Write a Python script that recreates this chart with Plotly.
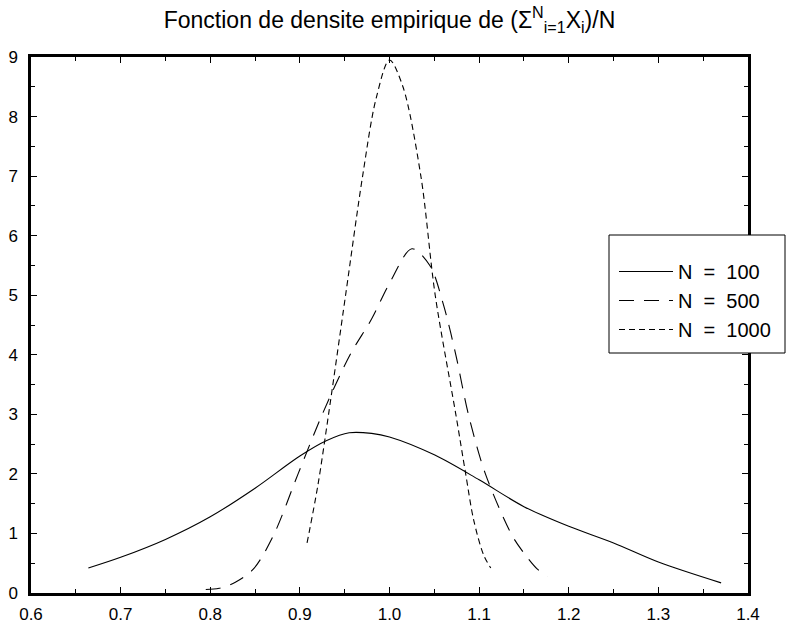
import plotly.graph_objects as go

# N = 100
x100 = [0.664, 0.70, 0.75, 0.80, 0.85, 0.90, 0.93, 0.955, 0.98, 1.00, 1.05, 1.10, 1.15, 1.20, 1.25, 1.30, 1.37]
y100 = [0.42, 0.60, 0.90, 1.28, 1.76, 2.30, 2.56, 2.69, 2.68, 2.62, 2.32, 1.90, 1.45, 1.12, 0.84, 0.52, 0.17]

# N = 500
x500 = [0.795, 0.81, 0.828, 0.848, 0.87, 0.898, 0.925, 0.956, 0.98, 1.00, 1.025, 1.045, 1.06, 1.074, 1.088, 1.107, 1.137, 1.15, 1.165, 1.176]
y500 = [0.06, 0.08, 0.18, 0.40, 0.95, 2.0, 3.0, 4.0, 4.6, 5.2, 5.78, 5.5, 4.85, 4.0, 3.0, 2.0, 0.96, 0.67, 0.40, 0.28]

# N = 1000
x1000 = [0.908, 0.92, 0.932, 0.951, 0.97, 0.985, 1.0, 1.015, 1.035, 1.051, 1.074, 1.085, 1.094, 1.105, 1.113]
y1000 = [0.84, 1.8, 3.0, 5.0, 7.0, 8.3, 8.95, 8.5, 7.0, 5.0, 3.0, 2.0, 1.22, 0.64, 0.42]

names = ["N  =  100", "N  =  500", "N  =  1000"]
xticks = [0.6, 0.7, 0.8, 0.9, 1.0, 1.1, 1.2, 1.3, 1.4]
xticklabels = ["0.6", "0.7", "0.8", "0.9", "1.0", "1.1", "1.2", "1.3", "1.4"]
yticks = [0, 1, 2, 3, 4, 5, 6, 7, 8, 9]

font = "Liberation Sans, Arial, sans-serif"

# plot box in pixels
L, R, T, B = 31, 748, 57, 593
W, H = 788, 626
pw, ph = R - L, B - T

fig = go.Figure()
fig.add_trace(go.Scatter(x=x100, y=y100, mode="lines", name=names[0], legendgroup="a",
                         line=dict(color="black", width=1.1, shape="spline", smoothing=0.9)))
fig.add_trace(go.Scatter(x=x500, y=y500, mode="lines", name=names[1], legendgroup="b",
                         line=dict(color="black", width=1.1, dash="15px,10px", shape="spline", smoothing=0.9)))
fig.add_trace(go.Scatter(x=x1000, y=y1000, mode="lines", name=names[2], legendgroup="c",
                         line=dict(color="black", width=1.1, dash="6px,4px", shape="spline", smoothing=0.9)))

# legend frame (extends past the right axis like the original)
fig.add_shape(type="rect", xref="paper", yref="paper", layer="above",
              x0=(609 - L) / pw, x1=(785 - L) / pw, y0=(B - 353) / ph, y1=(B - 235) / ph,
              fillcolor="white", line=dict(color="black", width=1))

fig.update_layout(
    width=W, height=H,
    margin=dict(l=L, r=W - R, t=T, b=H - B, autoexpand=False),
    paper_bgcolor="white", plot_bgcolor="white",
    font=dict(family=font, color="black", size=16),
    title=dict(text="Fonction de densite empirique de (Σ<sup>N</sup><sub>i=1</sub>X<sub>i</sub>)/N",
               x=0.5, xref="paper", xanchor="center", y=1 - 20 / H, yref="container", yanchor="middle",
               font=dict(size=23, family=font, color="black")),
    showlegend=True,
    legend=dict(x=(614 - L) / pw, xanchor="left", y=(B - 252) / ph, yanchor="top",
                bgcolor="rgba(0,0,0,0)", borderwidth=0,
                font=dict(size=20, family=font, color="black"),
                itemwidth=54, traceorder="normal", tracegroupgap=0),
)

fig.update_xaxes(range=[0.6, 1.4], tickvals=xticks, ticktext=xticklabels, automargin=False,
                 showgrid=False, zeroline=False, showline=True, linecolor="black", linewidth=2.5,
                 mirror="allticks", ticks="inside", ticklen=6, tickwidth=1, tickcolor="black",
                 minor=dict(ticks="inside", ticklen=4, dtick=0.05, tick0=0.6, tickcolor="black", tickwidth=1),
                 tickfont=dict(size=17, family=font), ticklabelstandoff=4)
fig.update_yaxes(range=[0, 9], tickvals=yticks, automargin=False,
                 showgrid=False, zeroline=False, showline=True, linecolor="black", linewidth=2.5,
                 mirror="allticks", ticks="inside", ticklen=6, tickwidth=1, tickcolor="black",
                 minor=dict(ticks="inside", ticklen=4, dtick=0.5, tick0=0, tickcolor="black", tickwidth=1),
                 tickfont=dict(size=17, family=font), ticklabelstandoff=7)

fig.write_html("out.html")
